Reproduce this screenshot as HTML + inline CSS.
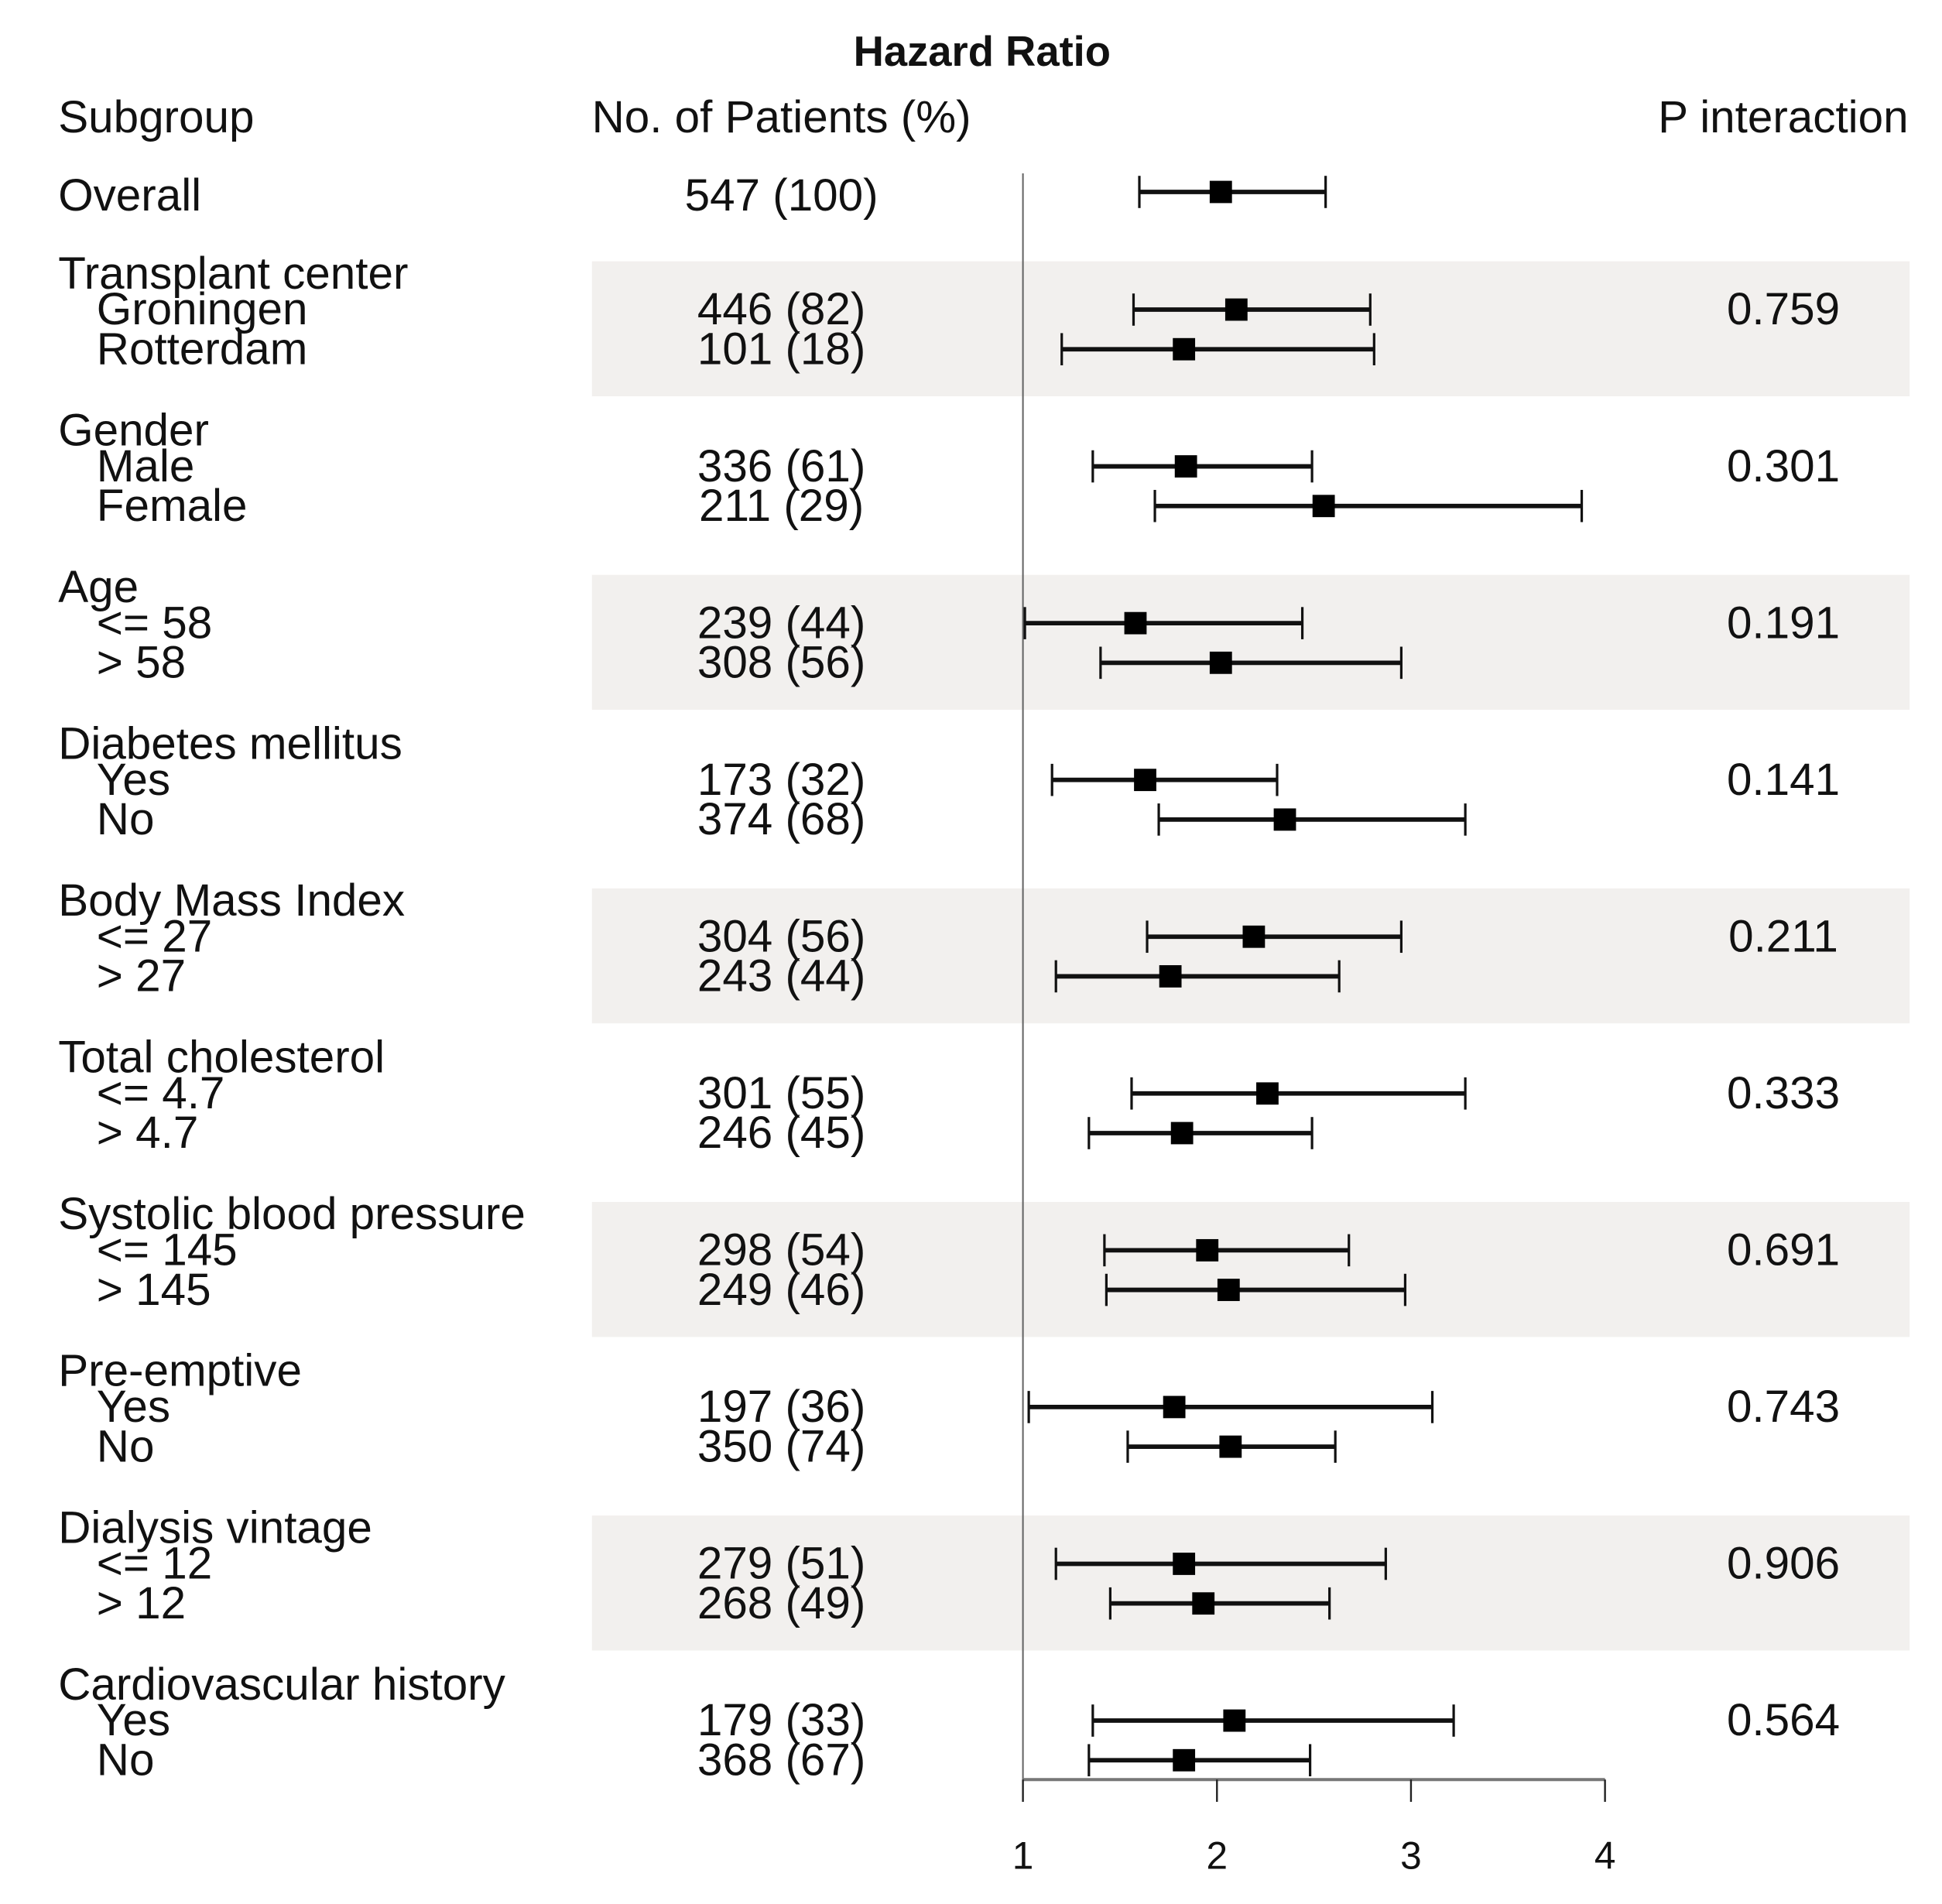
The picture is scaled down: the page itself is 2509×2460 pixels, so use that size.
<!DOCTYPE html>
<html><head><meta charset="utf-8"><style>
html,body{margin:0;padding:0;background:#fff}
svg{display:block}
text{font-family:"Liberation Sans",Arial,sans-serif;fill:#111}
</style></head><body>
<svg id="chart" width="2509" height="2460" viewBox="0 0 1568.125 1537.5" xmlns="http://www.w3.org/2000/svg">
<g id="bands"></g>
<text x="793" y="53" font-size="34" font-weight="bold" text-anchor="middle">Hazard Ratio</text>
<text x="47" y="107" font-size="36.5">Subgroup</text>
<text x="631" y="107" font-size="36.5" text-anchor="middle">No. of Patients (%)</text>
<text x="1541" y="107" font-size="36.5" text-anchor="end">P interaction</text>
<g id="rows"></g>
<g id="axis"></g>
<g id="marks"></g>
</svg>
<script>
const groups = ["Transplant center","Gender","Age","Diabetes mellitus","Body Mass Index","Total cholesterol","Systolic blood pressure","Pre-emptive","Dialysis vintage","Cardiovascular history"];
const subLabels = [["Groningen","Rotterdam"],["Male","Female"],["<= 58","> 58"],["Yes","No"],["<= 27","> 27"],["<= 4.7","> 4.7"],["<= 145","> 145"],["Yes","No"],["<= 12","> 12"],["Yes","No"]];
const patients = [["446 (82)","101 (18)"],["336 (61)","211 (29)"],["239 (44)","308 (56)"],["173 (32)","374 (68)"],["304 (56)","243 (44)"],["301 (55)","246 (45)"],["298 (54)","249 (46)"],["197 (36)","350 (74)"],["279 (51)","268 (49)"],["179 (33)","368 (67)"]];
const pValues = ["0.759","0.301","0.191","0.141","0.211","0.333","0.691","0.743","0.906","0.564"];
const overall = {label:"Overall", n:"547 (100)", hr:2.02, lo:1.60, hi:2.56};
const hr = [[2.10,1.83],[1.84,2.55],[1.58,2.02],[1.63,2.35],[2.19,1.76],[2.26,1.82],[1.95,2.06],[1.78,2.07],[1.83,1.93],[2.09,1.83]];
const lo = [[1.57,1.20],[1.36,1.68],[1.01,1.40],[1.15,1.70],[1.64,1.17],[1.56,1.34],[1.42,1.43],[1.03,1.54],[1.17,1.45],[1.36,1.34]];
const hi = [[2.79,2.81],[2.49,3.88],[2.44,2.95],[2.31,3.28],[2.95,2.63],[3.28,2.49],[2.68,2.97],[3.11,2.61],[2.87,2.58],[3.22,2.48]];
const ticks = [1,2,3,4];

const NS="http://www.w3.org/2000/svg";
const X0=826, XU=156.67;
function xs(v){return X0+(v-1)*XU;}
const rowY0=155, hdrY0=221, groupStep=126.6;
function hdrY(g){return hdrY0+g*groupStep;}
function mk(tag,attrs,parent){const e=document.createElementNS(NS,tag);for(const k in attrs)e.setAttribute(k,attrs[k]);parent.appendChild(e);return e;}
function txt(parent,x,y,s,anchor){const t=mk('text',{x:x,y:y+12,'font-size':36.5,'text-anchor':anchor||'start'},parent);t.textContent=s;return t;}

const bands=document.getElementById('bands'), rows=document.getElementById('rows'), axis=document.getElementById('axis'), marks=document.getElementById('marks');

groups.forEach((g,i)=>{
  if(i%2===0){
    const b=mk('rect',{x:478,y:hdrY(i)-10,width:1064,height:109,fill:'#f2f0ee'},bands);
    
    
  }
});

let t=txt(rows,47,rowY0+3,overall.label);


t=txt(rows,631,rowY0+3,overall.n,'middle');



groups.forEach((g,i)=>{
  const hy=hdrY(i);
  let e=txt(rows,47,hy,g);
  
  
  e=txt(rows,1440,hy+29,pValues[i],'middle');
  
  
  for(let j=0;j<2;j++){
    const y=hy+29+j*32;
    e=txt(rows,78,y,subLabels[i][j]);
    
    
    e=txt(rows,631,y,patients[i][j],'middle');
    
    
  }
});

let l=mk('line',{x1:X0,y1:140,x2:X0,y2:1437,stroke:'#666','stroke-width':1.3},axis);


l=mk('line',{x1:xs(ticks[0]),y1:1437,x2:xs(ticks[ticks.length-1]),y2:1437,stroke:'#777','stroke-width':2.5},axis);


ticks.forEach(v=>{
  const tk=mk('line',{x1:xs(v),y1:1437,x2:xs(v),y2:1455,stroke:'#222','stroke-width':1.5},axis);
  
  
  const tl=mk('text',{x:xs(v),y:1509,'font-size':31,'text-anchor':'middle'},axis);
  tl.textContent=String(v);
  
  
});

function ci(y,h,a,b,name){
  const g=mk('g',{},marks);
  
  
  mk('line',{x1:xs(a),y1:y,x2:xs(b),y2:y,stroke:'#111','stroke-width':3.6},g);
  mk('line',{x1:xs(a),y1:y-13,x2:xs(a),y2:y+13,stroke:'#111','stroke-width':2},g);
  mk('line',{x1:xs(b),y1:y-13,x2:xs(b),y2:y+13,stroke:'#111','stroke-width':2},g);
  mk('rect',{x:xs(h)-9,y:y-9,width:18,height:18,fill:'#000'},g);
}
ci(rowY0,overall.hr,overall.lo,overall.hi,'ci-overall');
groups.forEach((g,i)=>{
  for(let j=0;j<2;j++){
    ci(hdrY(i)+29+j*32, hr[i][j], lo[i][j], hi[i][j], 'ci-'+i+'-'+j);
  }
});
</script>
</body></html>
